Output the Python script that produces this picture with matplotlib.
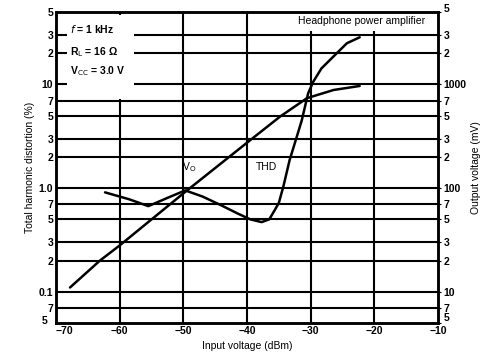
"""Headphone power amplifier: THD and output voltage vs input voltage."""

import matplotlib

matplotlib.use("Agg")
import matplotlib.pyplot as plt
from matplotlib.patches import Rectangle
from matplotlib.transforms import ScaledTranslation

plt.rcParams["font.family"] = ["Liberation Sans", "DejaVu Sans"]

# THD curve (input dBm, THD %)
thd_x = [-62.3, -58.5, -55.5, -52.6, -49.7, -47.0, -44.0, -41.5, -39.5, -37.7, -36.5,
         -35.6, -35.0, -34.3, -33.3, -32.2, -31.4, -30.4, -29.6, -28.3, -25.9, -24.3, -22.3]
thd_y = [0.91, 0.78, 0.67, 0.80, 0.95, 0.83, 0.68, 0.57, 0.50, 0.47, 0.50,
         0.62, 0.72, 1.03, 1.87, 3.1, 4.5, 8.2, 10.6, 14.3, 20.0, 25.0, 28.5]

# Output voltage curve (input dBm, mV)
vo_x = [-67.8, -63.1, -60.0, -49.7, -39.5, -34.8, -30.6, -29.0, -26.4, -22.3]
vo_y = [11, 20, 28, 92, 290, 490, 736, 790, 884, 967]

x_ticks = [-70, -60, -50, -40, -30, -20, -10]
x_labels = ["\u221270", "\u221260", "\u221250", "\u221240", "\u221230", "\u221220", "\u221210"]
left_ticks = [0.05, 0.07, 0.1, 0.2, 0.3, 0.5, 0.7, 1, 2, 3, 5, 7, 10, 20, 30, 50]
left_labels = ["5", "7", "0.1", "2", "3", "5", "7", "1.0", "2", "3", "5", "7", "10", "2", "3", "5"]
right_ticks = [5, 7, 10, 20, 30, 50, 70, 100, 200, 300, 500, 700, 1000, 2000, 3000, 5000]
right_labels = ["5", "7", "10", "2", "3", "5", "7", "100", "2", "3", "5", "7", "1000", "2", "3", "5"]

fig = plt.figure(figsize=(4.88, 3.61), dpi=100)
ax = fig.add_axes([0.1148, 0.1053, 0.7827, 0.8615])
ax.set_xlim(-70, -10)
ax.set_yscale("log")
ax.set_ylim(0.05, 50)

for v in x_ticks[1:-1]:
    ax.axvline(v, color="black", lw=1.5, zorder=1)
for v in left_ticks[1:-1]:
    ax.axhline(v, color="black", lw=1.5, zorder=1)

for s in ax.spines.values():
    s.set_linewidth(1.8)

ax.set_xticks(x_ticks)
ax.set_xticklabels(x_labels, fontsize=7.5, fontweight="bold")
ax.set_yticks(left_ticks)
ax.set_yticklabels(left_labels, fontsize=7.5, fontweight="bold")
ax.minorticks_off()
ax.tick_params(length=0, pad=2)
ax.get_xticklabels()[0].set_ha("left")
bottom_left = ax.get_yticklabels()[0]
bottom_left.set_transform(bottom_left.get_transform() + ScaledTranslation(-4 / 72, 2 / 72, fig.dpi_scale_trans))

ax.plot(thd_x, thd_y, color="black", lw=1.8, zorder=3, solid_capstyle="round")

ax2 = ax.twinx()
ax2.set_yscale("log")
ax2.set_ylim(5, 5000)
ax2.set_yticks(right_ticks)
ax2.set_yticklabels(right_labels, fontsize=7.5, fontweight="bold")
ax2.minorticks_off()
ax2.tick_params(length=2, pad=2)
bottom_right = ax2.get_yticklabels()[0]
bottom_right.set_transform(bottom_right.get_transform() + ScaledTranslation(0, 4 / 72, fig.dpi_scale_trans))
top_right = ax2.get_yticklabels()[-1]
top_right.set_transform(top_right.get_transform() + ScaledTranslation(0, 3 / 72, fig.dpi_scale_trans))
ax2.plot(vo_x, vo_y, color="black", lw=1.8, zorder=3, solid_capstyle="round")
for s in ax2.spines.values():
    s.set_linewidth(1.8)

# white patches behind the annotation blocks
ax.add_patch(Rectangle((0.03, 0.72), 0.175, 0.27, transform=ax.transAxes,
                       facecolor="white", edgecolor="none", zorder=2))
ax.add_patch(Rectangle((0.555, 0.94), 0.44, 0.057, transform=ax.transAxes,
                       facecolor="white", edgecolor="none", zorder=2))

ax.text(-67.8, 34, "$\\mathit{f}$ = 1 kHz", fontsize=7.5, fontweight="bold", va="center", zorder=4)
ax.text(-67.8, 20.5, "R$_\\mathsf{L}$ = 16 \u03a9", fontsize=7.5, fontweight="bold", va="center", zorder=4)
ax.text(-67.8, 13.5, "V$_\\mathsf{CC}$ = 3.0 V", fontsize=7.5, fontweight="bold", va="center", zorder=4)
ax.text(-12, 41, "Headphone power amplifier", fontsize=7.5, ha="right", va="center", zorder=4)
ax.text(-50.2, 1.6, "V$_\\mathsf{O}$", fontsize=7.5, va="center", zorder=4)
ax.text(-38.6, 1.6, "THD", fontsize=7.5, va="center", zorder=4)

ax.set_xlabel("Input voltage (dBm)", fontsize=7.5, labelpad=4)
ax.set_ylabel("Total harmonic distortion (%)", fontsize=7.5, labelpad=3)
ax2.set_ylabel("Output voltage (mV)", fontsize=7.5, labelpad=3)

fig.savefig("out.png", dpi=100)
